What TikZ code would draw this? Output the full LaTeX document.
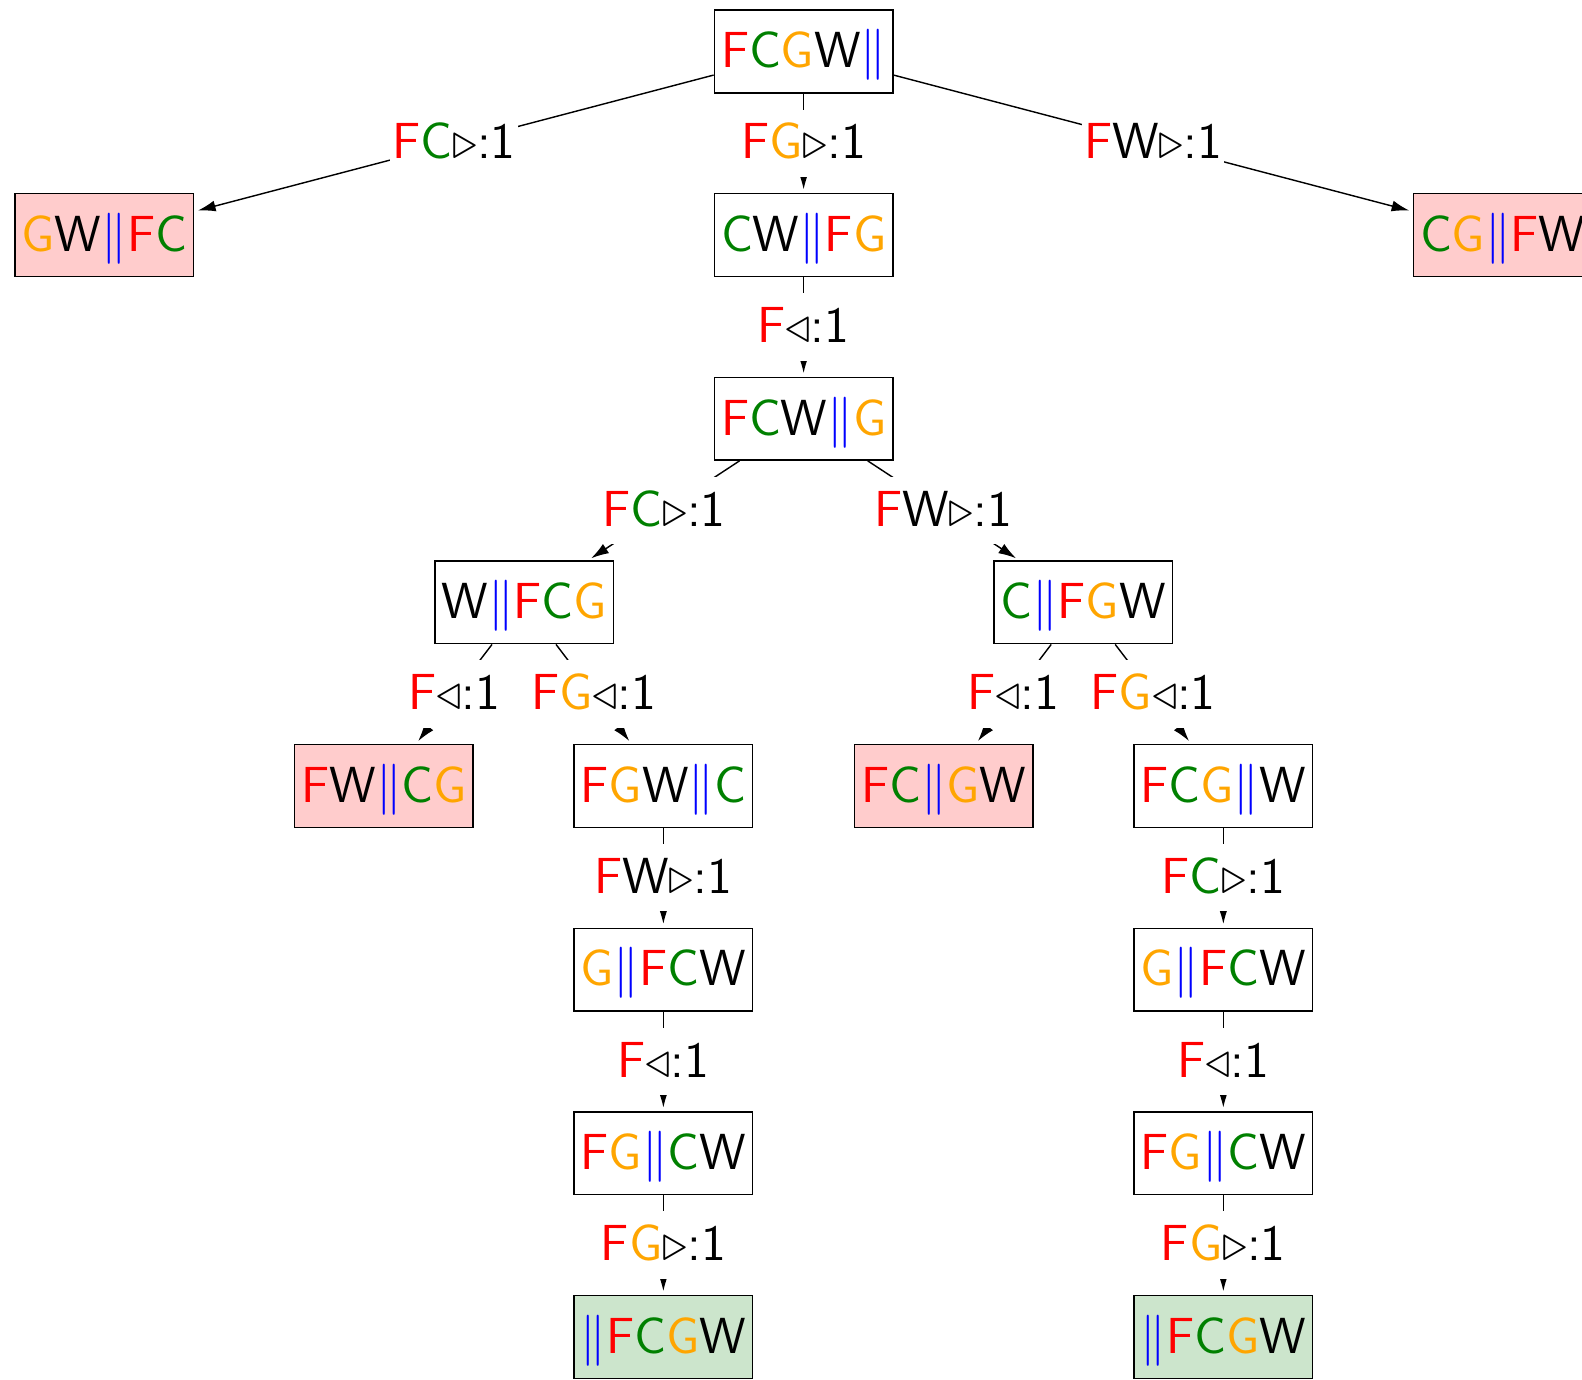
\documentclass[tikz,border=0pt]{standalone}
\usepackage{fontspec}
\usetikzlibrary{arrows.meta}
\definecolor{goatorange}{RGB}{255,165,0}
\definecolor{cabbagegreen}{RGB}{0,128,0}
\newcommand{\Fa}{\textcolor{red}{F}}
\newcommand{\Ca}{\textcolor{cabbagegreen}{C}}
\newcommand{\Ga}{\textcolor{goatorange}{G}}
\newcommand{\Wo}{W}
\newcommand{\Ri}{\textcolor{blue}{$\|$}}
\newcommand{\Go}{$\triangleright$:1}
\newcommand{\Back}{$\triangleleft$:1}
\tikzset{
	state/.style={draw, minimum width=1.77cm, minimum height=0.82cm, inner sep=0pt, text height=10.7pt, text depth=1.5pt},
	badstate/.style={state, fill=red!20},
	goalstate/.style={state, fill=green!50!black!20},
	trip/.style={fill=white, inner xsep=0.5pt, inner ysep=3.9pt, text height=10pt, text depth=1.2pt},
}
\begin{document}
\begin{tikzpicture}[->, >={Latex[length=5pt,width=3.1pt]}, shorten >=1pt, font=\sffamily\fontsize{14.3}{17}\selectfont]
			\useasboundingbox (0,0) rectangle (15.68,-13.67);
			\node[state] (FCGW_) at (7.965, -0.51) {\Fa\Ca\Ga\Wo\Ri};
			\node[badstate] (GW_FC) at (1.035, -2.33) {\Ga\Wo\Ri\Fa\Ca};
			\node[state] (CW_FG) at (7.965, -2.33) {\Ca\Wo\Ri\Fa\Ga};
			\node[badstate] (CG_FW) at (14.895, -2.33) {\Ca\Ga\Ri\Fa\Wo};
			\node[state] (FCW_G) at (7.965, -4.15) {\Fa\Ca\Wo\Ri\Ga};
			\node[state] (W_FCG) at (5.195, -5.97) {\Wo\Ri\Fa\Ca\Ga};
			\node[state] (C_FGW) at (10.735, -5.97) {\Ca\Ri\Fa\Ga\Wo};
			\node[badstate] (FW_CG) at (3.805, -7.79) {\Fa\Wo\Ri\Ca\Ga};
			\node[state] (FGW_C) at (6.575, -7.79) {\Fa\Ga\Wo\Ri\Ca};
			\node[badstate] (FC_GW) at (9.355, -7.79) {\Fa\Ca\Ri\Ga\Wo};
			\node[state] (FCG_W) at (12.125, -7.79) {\Fa\Ca\Ga\Ri\Wo};
			\node[state] (G_FCW_l) at (6.575, -9.61) {\Ga\Ri\Fa\Ca\Wo};
			\node[state] (G_FCW_r) at (12.125, -9.61) {\Ga\Ri\Fa\Ca\Wo};
			\node[state] (FG_CW_l) at (6.575, -11.43) {\Fa\Ga\Ri\Ca\Wo};
			\node[state] (FG_CW_r) at (12.125, -11.43) {\Fa\Ga\Ri\Ca\Wo};
			\node[goalstate] (_FCGW_l) at (6.575, -13.25) {\Ri\Fa\Ca\Ga\Wo};
			\node[goalstate] (_FCGW_r) at (12.125, -13.25) {\Ri\Fa\Ca\Ga\Wo};
			\draw (FCGW_) -- node[trip] {\Fa\Ca\Go} (GW_FC);
			\draw (FCGW_) -- node[trip] {\Fa\Ga\Go} (CW_FG);
			\draw (FCGW_) -- node[trip] {\Fa\Wo\Go} (CG_FW);
			\draw (CW_FG) -- node[trip] {\Fa\Back} (FCW_G);
			\draw (FCW_G) -- node[trip] {\Fa\Ca\Go} (W_FCG);
			\draw (FCW_G) -- node[trip] {\Fa\Wo\Go} (C_FGW);
			\draw (W_FCG) -- node[trip] {\Fa\Back} (FW_CG);
			\draw (W_FCG) -- node[trip] {\Fa\Ga\Back} (FGW_C);
			\draw (C_FGW) -- node[trip] {\Fa\Back} (FC_GW);
			\draw (C_FGW) -- node[trip] {\Fa\Ga\Back} (FCG_W);
			\draw (FGW_C) -- node[trip] {\Fa\Wo\Go} (G_FCW_l);
			\draw (G_FCW_l) -- node[trip] {\Fa\Back} (FG_CW_l);
			\draw (FG_CW_l) -- node[trip] {\Fa\Ga\Go} (_FCGW_l);
			\draw (FCG_W) -- node[trip] {\Fa\Ca\Go} (G_FCW_r);
			\draw (G_FCW_r) -- node[trip] {\Fa\Back} (FG_CW_r);
			\draw (FG_CW_r) -- node[trip] {\Fa\Ga\Go} (_FCGW_r);
		\end{tikzpicture}
\end{document}
